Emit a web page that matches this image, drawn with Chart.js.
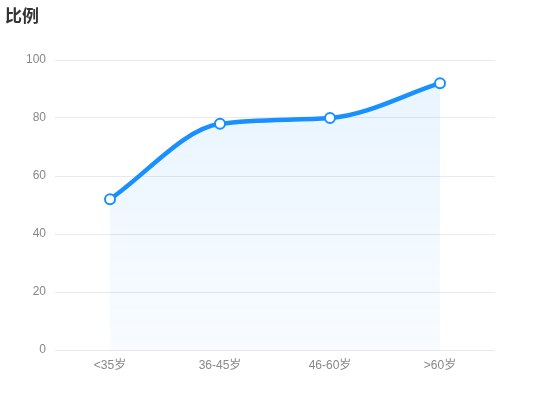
<!DOCTYPE html>
<html>
<head>
<meta charset="utf-8">
<script src="https://cdn.jsdelivr.net/npm/chart.js@4.4.0/dist/chart.umd.min.js"></script>
<style>
html,body{margin:0;padding:0;background:#fff;}
#wrap{position:relative;width:550px;height:420px;}
#title{position:absolute;left:5px;top:2px;font-family:'Noto Sans CJK SC','Noto Sans',sans-serif;font-weight:bold;font-size:17px;color:#333;}
canvas{position:absolute;left:0;top:0;}
</style>
</head>
<body>
<div id="wrap">
<canvas id="c" width="550" height="420"></canvas>
<div id="title">比例</div>
</div>
<script>
const categories = ['<35岁', '36-45岁', '46-60岁', '>60岁'];
const values = [52, 78, 80, 92];
const yTicks = [0, 20, 40, 60, 80, 100];

Chart.defaults.font.family = "'Liberation Sans','Noto Sans CJK SC',sans-serif";
const ctx = document.getElementById('c').getContext('2d');

new Chart(ctx, {
  type: 'line',
  data: {
    labels: categories,
    datasets: [{
      data: values,
      borderColor: '#1890ff',
      borderWidth: 4.5,
      cubicInterpolationMode: 'monotone',
      pointRadius: 5,
      pointHoverRadius: 5,
      pointBackgroundColor: '#fff',
      pointBorderColor: '#1890ff',
      pointBorderWidth: 2,
      fill: 'origin',
      backgroundColor: function(context) {
        const chart = context.chart;
        const a = chart.chartArea;
        if (!a) return 'rgba(24,144,255,0.06)';
        const g = chart.ctx.createLinearGradient(0, a.top, 0, a.bottom);
        g.addColorStop(0, 'rgba(24,144,255,0.10)');
        g.addColorStop(1, 'rgba(24,144,255,0.03)');
        return g;
      }
    }]
  },
  options: {
    responsive: false,
    animation: false,
    layout: { padding: { left: 0, right: 55, top: 60, bottom: 0 } },
    plugins: { legend: { display: false }, tooltip: { enabled: false } },
    scales: {
      x: {
        offset: true,
        grid: { display: false },
        border: { display: false },
        ticks: { color: '#888', font: { size: 12 }, padding: 0 },
        afterFit: s => { s.height = 70; }
      },
      y: {
        min: 0, max: 100,
        afterBuildTicks: s => { s.ticks = yTicks.map(v => ({ value: v })); },
        grid: { color: '#e8e8ee', drawTicks: false },
        border: { display: false },
        ticks: { color: '#888', font: { size: 12 }, padding: 9 },
        afterFit: s => { s.width = 55; }
      }
    }
  }
});
</script>
</body>
</html>
